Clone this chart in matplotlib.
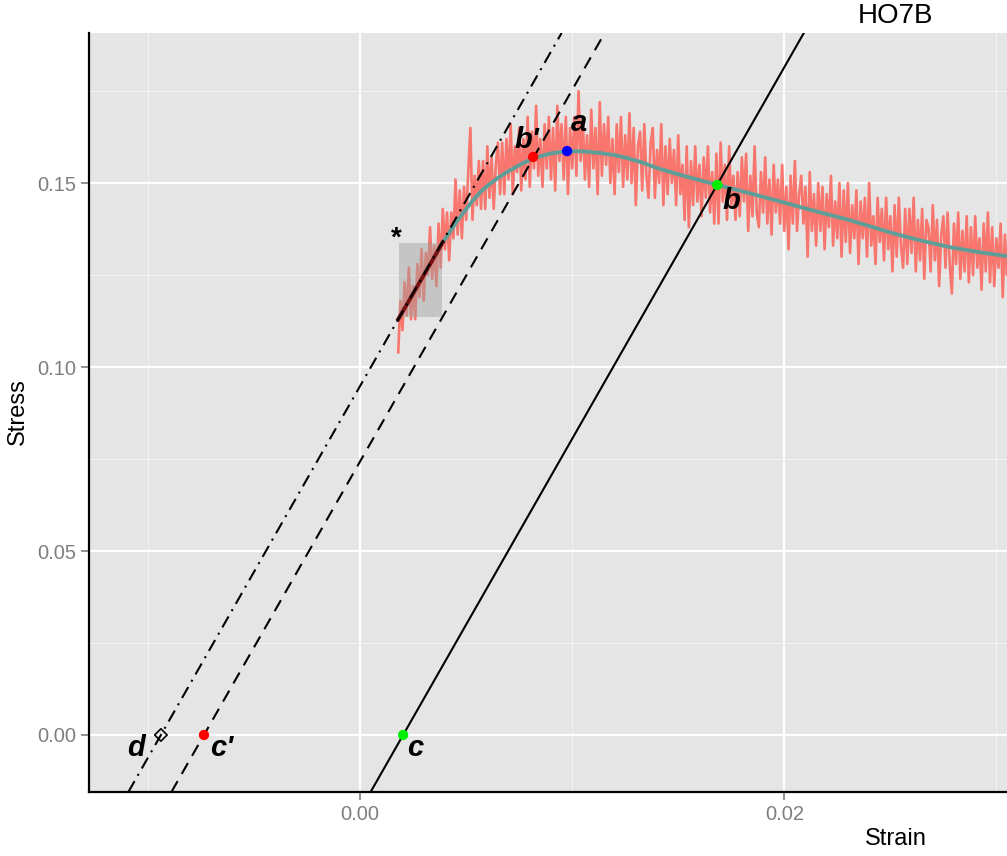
import matplotlib
matplotlib.use('Agg')
import matplotlib.pyplot as plt
import numpy as np
from matplotlib.patches import Rectangle

plt.rcParams['font.family'] = ['Liberation Sans', 'DejaVu Sans']

# raw measured stress (in thousandths), sampled every 0.0001 strain from 0.0018
red_start = 0.0018
red_step = 0.0001
red_stress_milli = [
    104, 118, 110, 123, 114, 127, 113, 122, 113, 128,
    119, 132, 118, 131, 125, 138, 124, 133, 122, 139,
    127, 143, 132, 142, 129, 142, 135, 151, 136, 148,
    135, 149, 140, 153, 165, 140, 152, 144, 156, 143,
    156, 143, 160, 146, 157, 143, 155, 161, 147, 161,
    147, 162, 151, 166, 147, 160, 153, 165, 148, 162,
    151, 168, 149, 164, 154, 171, 152, 162, 149, 166,
    154, 168, 151, 165, 148, 171, 156, 166, 151, 168,
    147, 165, 154, 168, 152, 175, 156, 168, 151, 163,
    149, 170, 154, 165, 147, 172, 152, 166, 155, 168,
    150, 162, 147, 166, 153, 168, 149, 163, 151, 169,
    150, 165, 144, 160, 164, 148, 166, 152, 146, 161,
    165, 146, 159, 150, 166, 144, 160, 147, 162, 150,
    159, 144, 163, 147, 155, 140, 160, 138, 156, 144,
    160, 145, 155, 141, 157, 146, 160, 142, 153, 139,
    158, 139, 161, 145, 155, 140, 160, 144, 152, 140,
    153, 141, 157, 145, 158, 137, 152, 141, 160, 142,
    138, 153, 142, 157, 139, 151, 136, 155, 142, 151,
    139, 155, 137, 149, 132, 152, 139, 156, 137, 147,
    152, 139, 149, 130, 153, 137, 147, 133, 150, 137,
    149, 132, 147, 138, 152, 133, 145, 135, 150, 130,
    148, 134, 150, 131, 144, 135, 148, 128, 145, 135,
    146, 130, 150, 133, 141, 128, 146, 134, 143, 129,
    146, 132, 141, 126, 144, 130, 146, 133, 127, 143,
    128, 143, 131, 146, 126, 140, 129, 143, 124, 140,
    138, 126, 144, 129, 140, 122, 136, 141, 127, 142,
    128, 120, 139, 128, 142, 124, 137, 126, 141, 123,
    138, 125, 141, 127, 135, 121, 139, 126, 142, 123,
    138, 122, 135, 127, 139, 119, 136, 125, 138, 123,
]

# smoothed curve
smooth_strain = [0.0018, 0.0025, 0.0032, 0.0039, 0.0046, 0.0053, 0.0057, 0.0061,
                 0.0065, 0.0069, 0.0076, 0.0082, 0.0090, 0.0098, 0.0106, 0.0113,
                 0.0120, 0.0126, 0.0133, 0.0140, 0.0150, 0.0160, 0.0168, 0.0180,
                 0.0195, 0.0210, 0.0231, 0.0251, 0.0265, 0.0278, 0.0292, 0.0307]
smooth_stress = [0.1130, 0.1201, 0.1271, 0.1339, 0.1399, 0.1452, 0.1477, 0.1497,
                 0.1514, 0.1529, 0.1552, 0.1568, 0.1581, 0.1587, 0.1586, 0.1582,
                 0.1576, 0.1568, 0.1556, 0.1541, 0.1524, 0.1508, 0.1496, 0.1478,
                 0.1455, 0.1431, 0.1399, 0.1364, 0.1343, 0.1326, 0.1312, 0.1300]

# fit window (*)
fit_strain = [0.00184, 0.00387]
fit_stress = [0.1136, 0.1337]
fit_line_strain = [0.0018, 0.0039]
fit_line_stress = [0.1130, 0.1339]

# modulus lines: x-intercepts, shared slope
modulus = 10.1
intercept_solid = 0.00203   # c
intercept_dashed = -0.00736  # c'
intercept_dotdash = -0.00939  # d

# marked points
pt_labels = ['a', "b'", 'b', 'c', "c'"]
pt_strain = [0.00976, 0.00816, 0.01684, 0.00203, -0.00736]
pt_stress = [0.1587, 0.1571, 0.1495, 0.0, 0.0]
pt_colors = ['#0000FF', '#FF0000', '#00EE00', '#00EE00', '#FF0000']
d_strain, d_stress = -0.00939, 0.0

label_pos = {
    'a': (0.01033, 0.1663),
    "b'": (0.00788, 0.1617),
    'b': (0.0175, 0.1451),
    'c': (0.00259, -0.0035),
    "c'": (-0.00651, -0.0035),
    'd': (-0.01057, -0.0035),
}

fig = plt.figure(figsize=(10.07, 8.56), dpi=100)
ax = fig.add_axes([89 / 1007, 1 - 792 / 856, 1 - 89 / 1007, (792 - 33) / 856])
ax.set_facecolor('#E5E5E5')

ax.set_xlim(-0.01278, 0.0305)
ax.set_ylim(-0.0155, 0.1908)

ax.set_xticks([0.0, 0.02])
ax.set_xticklabels(['0.00', '0.02'])
ax.set_yticks([0.0, 0.05, 0.10, 0.15])
ax.set_yticklabels(['0.00', '0.05', '0.10', '0.15'])
ax.set_xticks([-0.01, 0.01, 0.03], minor=True)
ax.set_yticks([0.025, 0.075, 0.125, 0.175], minor=True)
ax.grid(which='major', color='white', lw=1.6)
ax.grid(which='minor', color='#F2F2F2', lw=0.8)
ax.set_axisbelow(True)
ax.tick_params(which='major', colors='#7F7F7F', length=6, width=1.2, labelsize=14.5)
ax.tick_params(which='minor', length=0)

for s in ['top', 'right']:
    ax.spines[s].set_visible(False)
for s in ['left', 'bottom']:
    ax.spines[s].set_color('black')
    ax.spines[s].set_linewidth(1.6)

red_stress = np.array(red_stress_milli) / 1000.0
red_strain = red_start + red_step * np.arange(len(red_stress))
ax.plot(red_strain, red_stress, color='#F8766D', lw=1.9, zorder=2)

ax.plot(smooth_strain, smooth_stress, color='#5F9E98', lw=2.8, zorder=3)

ax.add_patch(Rectangle((fit_strain[0], fit_stress[0]), fit_strain[1] - fit_strain[0],
                       fit_stress[1] - fit_stress[0], facecolor='#A0A0A0', alpha=0.45,
                       edgecolor='none', zorder=4))
ax.plot(fit_line_strain, fit_line_stress, color='#7A0F0F', lw=2.8, zorder=5)

ax.axline((intercept_solid, 0), slope=modulus, color='black', lw=1.5, zorder=6)
ax.axline((intercept_dashed, 0), slope=modulus, color='black', lw=1.5,
          linestyle=(0, (6, 4)), zorder=6)
ax.axline((intercept_dotdash, 0), slope=modulus, color='black', lw=1.5,
          linestyle=(0, (6, 3, 1, 3)), zorder=6)

ax.scatter(pt_strain, pt_stress, c=pt_colors, s=55, zorder=7, edgecolors='none')
ax.scatter([d_strain], [d_stress], marker='D', s=40, facecolors='none',
           edgecolors='black', linewidths=1.2, zorder=7)

for name, (x, y) in label_pos.items():
    ax.text(x, y, name, fontsize=21, fontweight='bold', fontstyle='italic',
            ha='center', va='center', zorder=8)
ax.text(0.0017, 0.1350, '*', fontsize=20, fontweight='bold', ha='center', va='center')

fig.text(896 / 1007, 1 - 16 / 856, 'HO7B', fontsize=20, ha='center', va='center')
fig.text(896 / 1007, 1 - 839 / 856, 'Strain', fontsize=17, ha='center', va='center')
fig.text(18 / 1007, 1 - 412 / 856, 'Stress', fontsize=17, ha='center', va='center',
         rotation=90)

fig.savefig('out.png', dpi=100)
